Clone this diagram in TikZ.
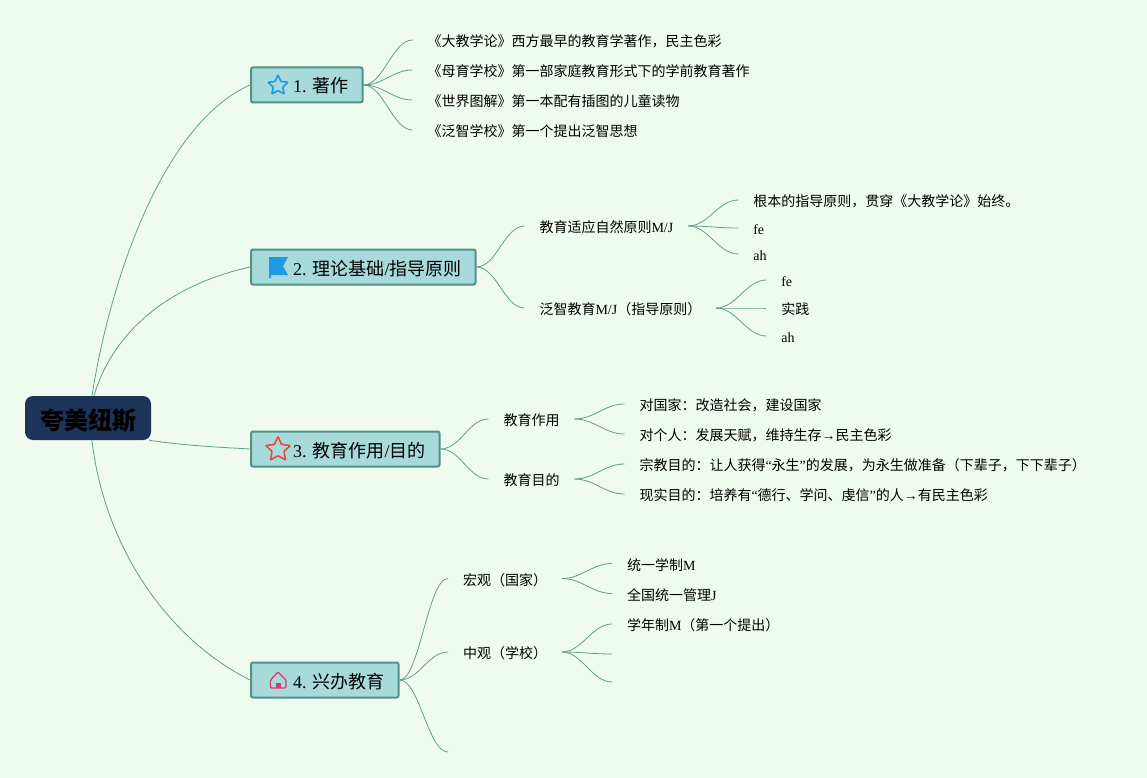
\documentclass[tikz,border=0pt]{standalone}
\usepackage{fontspec}
\setmainfont{Liberation Serif}
\newfontfamily\zhfont{Noto Sans CJK SC}
\newcommand{\zh}[1]{{\zhfont #1}}
\usetikzlibrary{positioning, shapes.geometric}
\definecolor{bgmint}{HTML}{F0FBF0}
\definecolor{rootnavy}{HTML}{1E3358}
\definecolor{topicfill}{HTML}{A8DADB}
\definecolor{topicline}{HTML}{4F9389}
\definecolor{linkgreen}{HTML}{5F9E8E}
\definecolor{iconblue}{HTML}{1F9AE4}
\definecolor{iconred}{HTML}{E2483A}
\definecolor{iconrose}{HTML}{D83A6A}
\tikzset{
  rootnode/.style={fill=rootnavy, rounded corners=8pt, minimum width=126pt, minimum height=44pt,
    inner sep=0pt, text height=24pt, text depth=1pt, font=\fontsize{24}{28}\selectfont\zhfont\bfseries},
  topic/.style={draw=topicline, line width=2pt, fill=topicfill, rounded corners=2pt, anchor=west,
    inner xsep=14pt, inner ysep=0pt, minimum height=35pt, text height=18pt, text depth=2pt,
    font=\fontsize{18}{22}\selectfont},
  leaf/.style={inner xsep=15pt, inner ysep=0pt, outer sep=0pt, text height=15pt, text depth=2pt,
    font=\fontsize{14}{16}\selectfont},
  link/.style={draw=linkgreen, line width=.8pt},
  branch/.style={out=0, in=180, distance=20pt}
}

\begin{document}
\begin{tikzpicture}[x=1pt,y=-1pt]
  \path[use as bounding box, fill=bgmint] (0,0) rectangle (1147,778);

% define the main topics
  \node[rootnode]  (root)  at (88,418)  {夸美纽斯};
  \node[topic]  (t1)  at (250,85)  {\hspace*{28pt}1. \zh{著作}};
  \node[topic]  (t2)  at (250,267)  {\hspace*{28pt}2. \zh{理论基础}/\zh{指导原则}};
  \node[topic]  (t3)  at (250,449)  {\hspace*{28pt}3. \zh{教育作用}/\zh{目的}};
  \node[topic]  (t4)  at (250,680)  {\hspace*{28pt}4. \zh{兴办教育}};

% define the icons
  \node[star, star points=5, star point ratio=2.1, draw=iconblue, line width=1.6pt, rounded corners=.8pt,
    minimum size=21pt, inner sep=0pt]  (icon1)  at (278,85.5)  {};
  \node[star, star points=5, star point ratio=2.1, draw=iconred, line width=1.5pt, rounded corners=.8pt,
    minimum size=26pt, inner sep=0pt]  (icon3)  at (278,449.5)  {};
  \fill[iconblue] (269,257) -- (288,257) -- (283,266) -- (288,275) -- (271,275) -- (271,278) -- (269,278) -- cycle;
  \draw[iconrose, line width=1.3pt, rounded corners=1pt] (270.5,688) -- (270.5,680) -- (278,672) -- (286,680) -- (286,688) -- cycle;
  \fill[iconrose] (276,688) -- (276,683) -- (280.5,683) -- (280.5,688) -- cycle;

% define the first topic
  \node[leaf]  (l11)  [above right=45pt and 49pt of t1.east, anchor=west]
{\zh{《大教学论》西方最早的教育学著作，民主色彩}};
  \node[leaf]  (l12)  [below=30pt of l11.west, anchor=west]
{\zh{《母育学校》第一部家庭教育形式下的学前教育著作}};
  \node[leaf]  (l13)  [below=30pt of l12.west, anchor=west]
{\zh{《世界图解》第一本配有插图的儿童读物}};
  \node[leaf]  (l14)  [below=30pt of l13.west, anchor=west]
{\zh{《泛智学校》第一个提出泛智思想}};

% define the second topic
  \node[leaf]  (b21)  [above right=41pt and 48pt of t2.east, anchor=west]
{\zh{教育适应自然原则}M/J};
  \node[leaf]  (b22)  [below right=41pt and 48pt of t2.east, anchor=west]
{\zh{泛智教育}M/J\zh{（指导原则）}};
  \node[leaf]  (l211)  [above right=26pt and 50pt of b21.east, anchor=west]
{\zh{根本的指导原则，贯穿《大教学论》始终。}};
  \node[leaf]  (l212)  [below=28pt of l211.west, anchor=west]
{fe};
  \node[leaf]  (l213)  [below=26pt of l212.west, anchor=west]
{ah};
  \node[leaf]  (l221)  [above right=28pt and 50pt of b22.east, anchor=west]
{fe};
  \node[leaf]  (l222)  [below=28pt of l221.west, anchor=west]
{\zh{实践}};
  \node[leaf]  (l223)  [below=28pt of l222.west, anchor=west]
{ah};

% define the third topic
  \node[leaf]  (b31)  [above right=30pt and 48pt of t3.east, anchor=west]
{\zh{教育作用}};
  \node[leaf]  (b32)  [below right=30pt and 48pt of t3.east, anchor=west]
{\zh{教育目的}};
  \node[leaf]  (l311)  [above right=15pt and 50pt of b31.east, anchor=west]
{\zh{对国家：改造社会，建设国家}};
  \node[leaf]  (l312)  [below=30pt of l311.west, anchor=west]
{\zh{对个人：发展天赋，维持生存}→\zh{民主色彩}};
  \node[leaf]  (l321)  [above right=15pt and 50pt of b32.east, anchor=west]
{\zh{宗教目的：让人获得}“\zh{永生}”\zh{的发展，为永生做准备（下辈子，下下辈子）}};
  \node[leaf]  (l322)  [below=30pt of l321.west, anchor=west]
{\zh{现实目的：培养有}“\zh{德行、学问、虔信}”\zh{的人}→\zh{有民主色彩}};

% define the fourth topic
  \node[leaf]  (b41)  [above right=101.5pt and 48.5pt of t4.east, anchor=west]
{\zh{宏观（国家）}};
  \node[leaf]  (b42)  [above right=28pt and 48.5pt of t4.east, anchor=west]
{\zh{中观（学校）}};
  \coordinate[below right=72pt and 48.5pt of t4.east]  (b43);
  \node[leaf]  (l411)  [above right=15pt and 50pt of b41.east, anchor=west]
{\zh{统一学制}M};
  \node[leaf]  (l412)  [below=30pt of l411.west, anchor=west]
{\zh{全国统一管理}J};
  \node[leaf]  (l421)  [above right=28pt and 50pt of b42.east, anchor=west]
{\zh{学年制}M\zh{（第一个提出）}};
  \coordinate[below right=2pt and 50pt of b42.east]  (l422);
  \coordinate[below right=30pt and 50pt of b42.east]  (l423);

% define the links
  \draw[link] (root.80) .. controls +(22,-136) and +(-80,35) .. (t1.west);
  \draw[link] (root.75) .. controls +(18,-61) and +(-85,19) .. (t2.west);
  \draw[link] (root.-20) .. controls +(32,5) and +(-35,-2) .. (t3.west);
  \draw[link] (root.-80) .. controls +(13,110) and +(-80,-40) .. (t4.west);
  \path[link] (t1) edge [branch] (l11)
             edge [branch] (l12)
             edge [branch] (l13)
             edge [branch] (l14)
        (t2) edge [branch] (b21)
             edge [branch] (b22)
        (b21) edge [branch] (l211)
             edge [branch] (l212)
             edge [branch] (l213)
        (b22) edge [branch] (l221)
             edge [branch] (l222)
             edge [branch] (l223)
        (t3) edge [branch] (b31)
             edge [branch] (b32)
        (b31) edge [branch] (l311)
             edge [branch] (l312)
        (b32) edge [branch] (l321)
             edge [branch] (l322)
        (t4) edge [branch] (b41)
             edge [branch] (b42)
             edge [branch] (b43)
        (b41) edge [branch] (l411)
             edge [branch] (l412)
        (b42) edge [branch] (l421)
             edge [branch] (l422)
             edge [branch] (l423);

\end{tikzpicture}
\end{document}
